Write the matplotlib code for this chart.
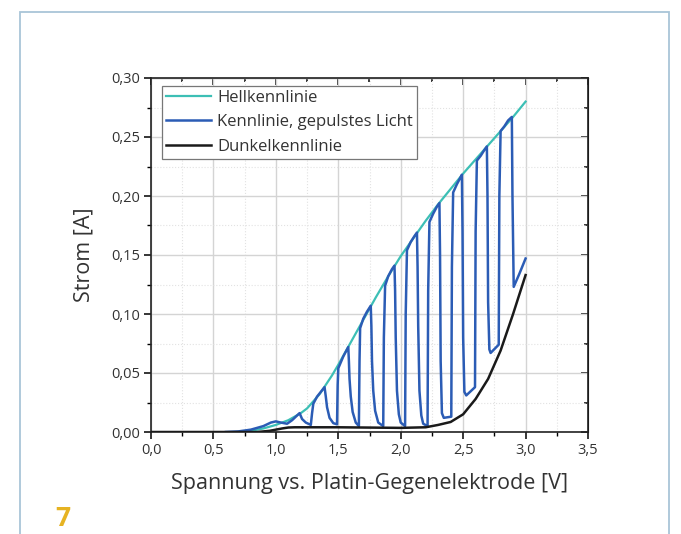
import numpy as np
import matplotlib
matplotlib.use("Agg")
import matplotlib.pyplot as plt
from matplotlib.ticker import MultipleLocator, FuncFormatter
from matplotlib.patches import Rectangle

plt.rcParams['font.family'] = ['Open Sans', 'DejaVu Sans']

# Hellkennlinie (constant illumination)
v_hell = [0.70, 0.75, 0.80, 0.85, 0.90, 0.95, 1.00, 1.05, 1.10, 1.15, 1.20, 1.25, 1.30, 1.35,
          1.40, 1.45, 1.50, 1.60, 1.70, 1.80, 1.90, 2.00, 2.10, 2.20, 2.30, 2.40, 2.50,
          2.60, 2.70, 2.80, 2.90, 3.00]
i_hell = [0.000, 0.0005, 0.001, 0.002, 0.003, 0.0045, 0.006, 0.008, 0.010, 0.013, 0.016, 0.020,
          0.026, 0.032, 0.040, 0.048, 0.057, 0.076, 0.095, 0.114, 0.132, 0.149, 0.164, 0.179,
          0.193, 0.206, 0.219, 0.231, 0.243, 0.255, 0.267, 0.280]

# Dunkelkennlinie (dark)
v_dunkel = [0.00, 0.85, 0.90, 0.95, 1.00, 1.05, 1.10, 1.15, 1.50, 2.00, 2.20, 2.30, 2.40,
            2.50, 2.60, 2.70, 2.80, 2.90, 3.00]
i_dunkel = [0.000, 0.000, 0.0005, 0.001, 0.002, 0.003, 0.0038, 0.004, 0.004, 0.0035, 0.004,
            0.006, 0.0085, 0.015, 0.028, 0.045, 0.069, 0.100, 0.133]

# Kennlinie, gepulstes Licht
v_puls = [0.60, 0.70, 0.80, 0.90, 0.96, 1.00, 1.04, 1.09, 1.13, 1.17, 1.19, 1.21, 1.24, 1.28,
          1.29, 1.30, 1.33, 1.36, 1.39,
          1.40, 1.41, 1.43, 1.46, 1.49, 1.495, 1.50, 1.54, 1.58,
          1.585, 1.59, 1.60, 1.615, 1.64, 1.665, 1.67, 1.675, 1.70, 1.73, 1.76,
          1.765, 1.77, 1.78, 1.795, 1.82, 1.86, 1.865, 1.875, 1.90, 1.93, 1.95,
          1.955, 1.96, 1.97, 1.985, 2.00, 2.035, 2.04, 2.05, 2.08, 2.11, 2.13,
          2.135, 2.14, 2.15, 2.165, 2.18, 2.215, 2.22, 2.23, 2.26, 2.29, 2.31,
          2.315, 2.32, 2.33, 2.345, 2.405, 2.41, 2.42, 2.45, 2.48, 2.49,
          2.495, 2.50, 2.51, 2.525, 2.595, 2.60, 2.61, 2.64, 2.67, 2.69,
          2.695, 2.70, 2.71, 2.72, 2.785, 2.79, 2.80, 2.83, 2.86, 2.89,
          2.895, 2.905, 2.95, 3.00]
i_puls = [0.000, 0.0005, 0.002, 0.005, 0.008, 0.009, 0.008, 0.007, 0.010, 0.014, 0.016, 0.011, 0.008, 0.006,
          0.016, 0.024, 0.030, 0.034, 0.038,
          0.030, 0.021, 0.012, 0.0075, 0.0065, 0.040, 0.054, 0.064, 0.072,
          0.060, 0.045, 0.030, 0.017, 0.008, 0.005, 0.060, 0.088, 0.096, 0.102, 0.107,
          0.090, 0.060, 0.035, 0.018, 0.008, 0.005, 0.080, 0.124, 0.132, 0.138, 0.141,
          0.120, 0.080, 0.035, 0.015, 0.008, 0.005, 0.100, 0.154, 0.161, 0.166, 0.169,
          0.140, 0.090, 0.035, 0.014, 0.007, 0.005, 0.120, 0.178, 0.185, 0.191, 0.194,
          0.150, 0.060, 0.016, 0.012, 0.013, 0.140, 0.203, 0.210, 0.216, 0.218,
          0.170, 0.080, 0.034, 0.031, 0.038, 0.170, 0.230, 0.234, 0.239, 0.242,
          0.200, 0.110, 0.070, 0.067, 0.074, 0.200, 0.255, 0.259, 0.264, 0.267,
          0.200, 0.123, 0.134, 0.147]

fig = plt.figure(figsize=(6.81, 5.34), dpi=100)

# light blue frame around the figure panel
fig.patches.append(Rectangle((20 / 681, -0.1), 649 / 681, (534 - 12) / 534 + 0.1,
                             transform=fig.transFigure, fill=False,
                             edgecolor='#a9c5d8', linewidth=1.3))

ax = fig.add_axes([151 / 681, 102 / 534, 437 / 681, 354 / 534])

ax.plot(v_hell, i_hell, color='#3cbfb5', lw=1.6, label='Hellkennlinie', zorder=3)
ax.plot(v_puls, i_puls, color='#2b5cb5', lw=1.8, label='Kennlinie, gepulstes Licht', zorder=4)
ax.plot(v_dunkel, i_dunkel, color='#1a1a1a', lw=1.8, label='Dunkelkennlinie', zorder=5)

ax.set_xlim(0, 3.5)
ax.set_ylim(0, 0.30)
ax.xaxis.set_major_locator(MultipleLocator(0.5))
ax.xaxis.set_minor_locator(MultipleLocator(0.25))
ax.yaxis.set_major_locator(MultipleLocator(0.05))
ax.yaxis.set_minor_locator(MultipleLocator(0.025))
ax.xaxis.set_major_formatter(FuncFormatter(lambda v, p: f"{v:.1f}".replace('.', ',')))
ax.yaxis.set_major_formatter(FuncFormatter(lambda v, p: f"{v:.2f}".replace('.', ',')))

ax.grid(which='major', color='#d4d4d4', lw=1.0)
ax.grid(which='minor', color='#e2e2e2', lw=0.8, ls=':')
ax.set_axisbelow(True)

ax.tick_params(which='major', direction='out', length=5, width=1.1, labelsize=10.5,
               labelcolor='#333333', pad=3)
ax.tick_params(which='minor', direction='out', length=3, width=1.0)
for s in ax.spines.values():
    s.set_linewidth(1.2)
    s.set_color('#222222')

# mirrored ticks pointing inwards on top and right
top = ax.secondary_xaxis('top')
top.xaxis.set_major_locator(MultipleLocator(0.5))
top.xaxis.set_minor_locator(MultipleLocator(0.25))
top.tick_params(which='both', direction='in', labeltop=False, width=1.1)
top.tick_params(which='major', length=5)
top.tick_params(which='minor', length=3)
right = ax.secondary_yaxis('right')
right.yaxis.set_major_locator(MultipleLocator(0.05))
right.yaxis.set_minor_locator(MultipleLocator(0.025))
right.tick_params(which='both', direction='in', labelright=False, width=1.1)
right.tick_params(which='major', length=5)
right.tick_params(which='minor', length=3)

ax.set_xlabel('Spannung vs. Platin-Gegenelektrode [V]', fontsize=15.5, color='#333333', labelpad=11)
ax.set_ylabel('Strom [A]', fontsize=15.5, color='#333333', labelpad=12)

leg = ax.legend(loc='upper left', bbox_to_anchor=(0.025, 0.978), fontsize=12, frameon=True,
                fancybox=False, framealpha=1, edgecolor='#777777', handlelength=2.7,
                handletextpad=0.35, borderpad=0.25, labelspacing=0.5, borderaxespad=0)
leg.get_frame().set_linewidth(0.9)
for t in leg.get_texts():
    t.set_color('#333333')

fig.text(55 / 681, 1.5 / 534, '7', fontsize=19, fontweight='bold', color='#e6b322',
         ha='left', va='bottom')

fig.savefig('out.png', dpi=100)
